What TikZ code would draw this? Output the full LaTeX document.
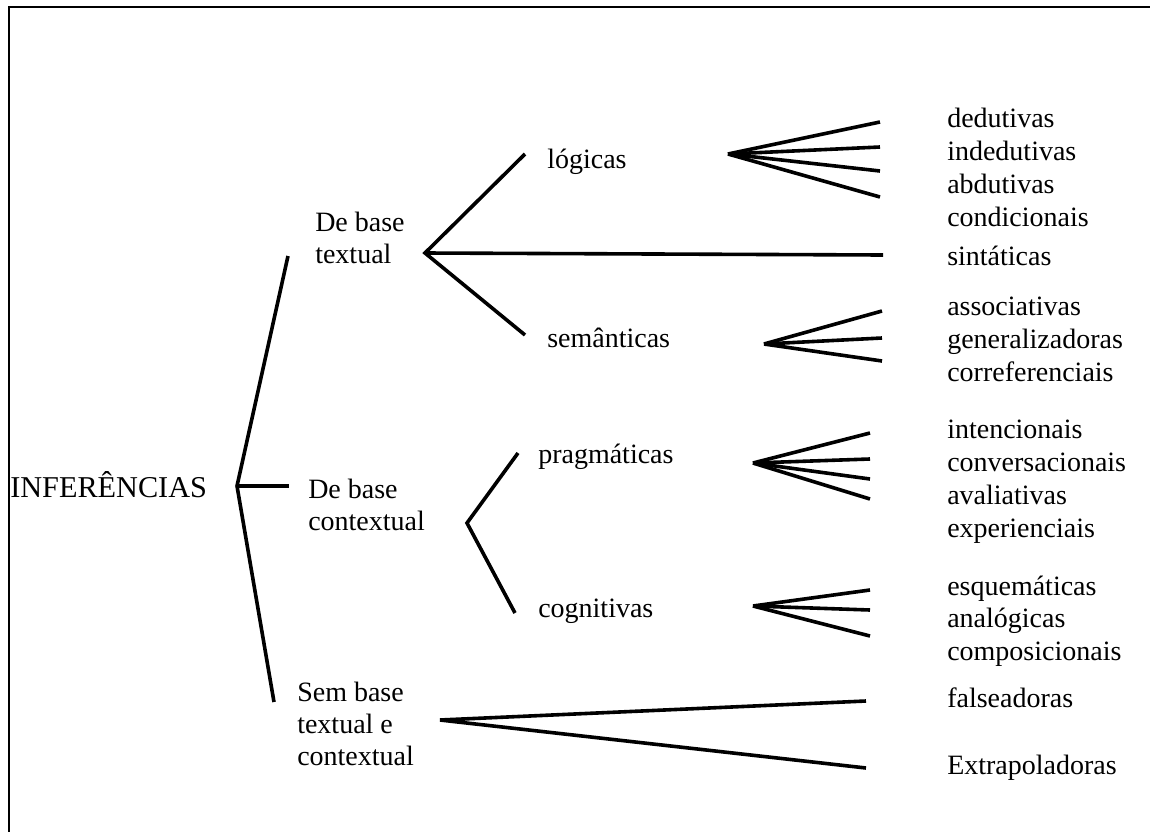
\documentclass[tikz,border=0pt]{standalone}
\usepackage{fontspec}
\setmainfont{Liberation Serif}
\tikzset{
	branch/.style={line width=2.7pt, line join=miter},
	lbl/.style={anchor=base west, inner sep=0pt, align=left,
		font=\fontsize{21}{24}\selectfont},
}
\begin{document}
\begin{tikzpicture}[x=0.75pt, y=-0.75pt]
	\clip (0,0) rectangle (1150,832);
	\draw[line width=1.5pt] (9,7) rectangle (1170,850);
	% root and first level
	\node[lbl, font=\fontsize{22.7}{27}\selectfont] (infer) at (10,497) {INFERÊNCIAS};
	\node[lbl] (textual) at (315,263) {De base\\textual};
	\node[lbl] (context) at (308,530) {De base\\contextual};
	\node[lbl] (nobase) at (297,765) {Sem base\\textual e\\contextual};
	\coordinate (rootV) at (237,486);
	\coordinate (rootA) at (288,256);
	\coordinate (rootB) at (289,486);
	\coordinate (rootC) at (274,702);
	\draw[branch] (rootA) -- (rootV) -- (rootC);
	\draw[branch] (rootV) -- (rootB);
	% de base textual
	\node[lbl] (logicas) at (547,168) {lógicas};
	\node[lbl] (semant) at (547,347) {semânticas};
	\coordinate (txtV) at (425,253);
	\coordinate (txtA) at (525,154);
	\coordinate (txtB) at (883,255);
	\coordinate (txtC) at (525,335);
	\draw[branch] (txtA) -- (txtV) -- (txtC);
	\draw[branch] (txtV) -- (txtB);
	\coordinate (logV) at (728,154);
	\foreach \y [count=\i] in {122,147,171,197}
		\draw[branch] (logV) -- (880,\y) coordinate (logE\i);
	\coordinate (semV) at (764,344);
	\foreach \y [count=\i] in {311,338,361}
		\draw[branch] (semV) -- (882,\y) coordinate (semE\i);
	% de base contextual
	\node[lbl] (pragmat) at (538,463) {pragmáticas};
	\node[lbl] (cognit) at (538,617) {cognitivas};
	\coordinate (ctxV) at (467,523);
	\coordinate (ctxA) at (518,453);
	\coordinate (ctxB) at (515,613);
	\draw[branch] (ctxA) -- (ctxV) -- (ctxB);
	\coordinate (pragV) at (753,463);
	\foreach \y [count=\i] in {433,459,479,499}
		\draw[branch] (pragV) -- (870,\y) coordinate (pragE\i);
	\coordinate (cogV) at (753,606);
	\foreach \y [count=\i] in {590,610,636}
		\draw[branch] (cogV) -- (870,\y) coordinate (cogE\i);
	% sem base
	\coordinate (nobV) at (440,720);
	\coordinate (nobA) at (866,701);
	\coordinate (nobB) at (866,768);
	\draw[branch] (nobA) -- (nobV) -- (nobB);
	% leaves
	\node[lbl] (dedut) at (947,127) {dedutivas};
	\node[lbl] (indedut) at (947,160) {indedutivas};
	\node[lbl] (abdut) at (947,193) {abdutivas};
	\node[lbl] (condic) at (947,226) {condicionais};
	\node[lbl] (sintat) at (947,265) {sintáticas};
	\node[lbl] (assoc) at (947,315) {associativas};
	\node[lbl] (general) at (947,348) {generalizadoras};
	\node[lbl] (corref) at (947,381) {correferenciais};
	\node[lbl] (intenc) at (947,438) {intencionais};
	\node[lbl] (convers) at (947,471) {conversacionais};
	\node[lbl] (avaliat) at (947,504) {avaliativas};
	\node[lbl] (experi) at (947,537) {experienciais};
	\node[lbl] (esquem) at (947,595) {esquemáticas};
	\node[lbl] (analog) at (947,627) {analógicas};
	\node[lbl] (compos) at (947,660) {composicionais};
	\node[lbl] (falsea) at (947,707) {falseadoras};
	\node[lbl] (extrap) at (947,774) {Extrapoladoras};
\end{tikzpicture}
\end{document}
